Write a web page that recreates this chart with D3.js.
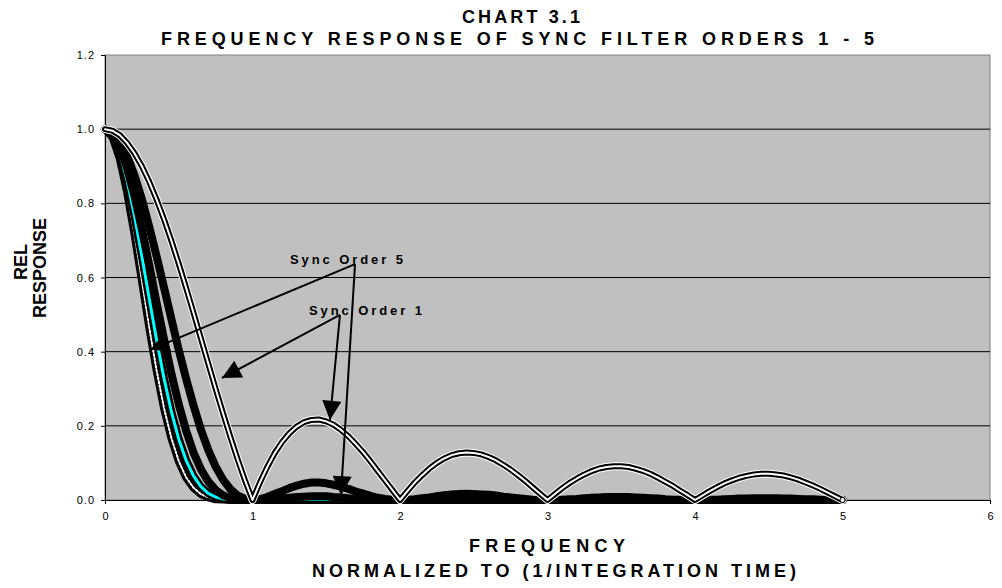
<!DOCTYPE html>
<meta charset="utf-8">
<style>
body { margin: 0; background: #fff; }
text { font-family: "Liberation Sans", Arial, sans-serif; fill: #000; }
.tick text { font-size: 11px; }
.title { font-weight: bold; font-size: 18px; }
.note { font-weight: bold; font-size: 13px; }
</style>
<svg width="1002" height="588"></svg>
<script src="https://d3js.org/d3.v7.min.js"></script>
<script>

// normalized frequency, 0 .. 5 in steps of 0.05
var freq = [0,0.05,0.1,0.15,0.2,0.25,0.3,0.35,0.4,0.45,0.5,0.55,0.6,0.65,0.7,0.75,0.8,0.85,0.9,0.95,
  1,1.05,1.1,1.15,1.2,1.25,1.3,1.35,1.4,1.45,1.5,1.55,1.6,1.65,1.7,1.75,1.8,1.85,1.9,1.95,
  2,2.05,2.1,2.15,2.2,2.25,2.3,2.35,2.4,2.45,2.5,2.55,2.6,2.65,2.7,2.75,2.8,2.85,2.9,2.95,
  3,3.05,3.1,3.15,3.2,3.25,3.3,3.35,3.4,3.45,3.5,3.55,3.6,3.65,3.7,3.75,3.8,3.85,3.9,3.95,
  4,4.05,4.1,4.15,4.2,4.25,4.3,4.35,4.4,4.45,4.5,4.55,4.6,4.65,4.7,4.75,4.8,4.85,4.9,4.95,5];

var order1 = [1,0.996,0.984,0.963,0.935,0.900,0.858,0.810,0.757,0.699,0.637,0.572,0.505,0.436,0.368,0.300,0.234,0.170,0.109,0.052,
  0,0.047,0.089,0.126,0.156,0.180,0.198,0.210,0.216,0.217,0.212,0.203,0.189,0.172,0.151,0.129,0.104,0.078,0.052,0.026,
  0,0.024,0.047,0.067,0.085,0.100,0.112,0.121,0.126,0.128,0.127,0.123,0.116,0.107,0.095,0.082,0.067,0.051,0.034,0.017,
  0,0.016,0.032,0.046,0.058,0.069,0.078,0.085,0.089,0.091,0.091,0.089,0.084,0.078,0.070,0.060,0.049,0.038,0.025,0.013,
  0,0.012,0.024,0.035,0.045,0.053,0.060,0.065,0.069,0.071,0.071,0.069,0.066,0.061,0.055,0.047,0.039,0.030,0.020,0.010,0];

var order2 = [1,0.992,0.968,0.928,0.875,0.811,0.737,0.657,0.573,0.488,0.405,0.327,0.255,0.190,0.135,0.090,0.055,0.029,0.012,0.003,
  0,0.002,0.008,0.016,0.024,0.032,0.039,0.044,0.047,0.047,0.045,0.041,0.036,0.030,0.023,0.017,0.011,0.006,0.003,0.001,
  0,0.001,0.002,0.005,0.007,0.010,0.013,0.015,0.016,0.017,0.016,0.015,0.014,0.012,0.009,0.007,0.005,0.003,0.001,0,
  0,0,0.001,0.002,0.003,0.005,0.006,0.007,0.008,0.008,0.008,0.008,0.007,0.006,0.005,0.004,0.002,0.001,0.001,0,
  0,0,0.001,0.001,0.002,0.003,0.004,0.004,0.005,0.005,0.005,0.005,0.004,0.004,0.003,0.002,0.002,0.001,0,0,0];

var order3 = [1,0.988,0.952,0.894,0.819,0.730,0.633,0.532,0.434,0.341,0.258,0.187,0.128,0.083,0.050,0.027,0.013,0.005,0.001,0,
  0,0,0.001,0.002,0.004,0.006,0.008,0.009,0.010,0.010,0.010,0.008,0.007,0.005,0.004,0.002,0.001,0.001,0,0,
  0,0,0,0,0.001,0.001,0.001,0.002,0.002,0.002,0.002,0.002,0.002,0.001,0.001,0.001,0,0,0,0,
  0,0,0,0,0,0,0,0,0.001,0.001,0.001,0.001,0,0,0,0,0,0,0,0,
  0,0,0,0,0,0,0,0,0,0,0,0,0,0,0,0,0,0,0,0,0];

var order4 = [1,0.984,0.936,0.861,0.766,0.657,0.543,0.431,0.328,0.238,0.164,0.107,0.065,0.036,0.018,0.008,0.003,0.001,0,0,
  0,0,0,0,0.001,0.001,0.002,0.002,0.002,0.002,0.002,0.002,0.001,0.001,0,0,0,0,0,0,
  0,0,0,0,0,0,0,0,0,0,0,0,0,0,0,0,0,0,0,0,
  0,0,0,0,0,0,0,0,0,0,0,0,0,0,0,0,0,0,0,0,
  0,0,0,0,0,0,0,0,0,0,0,0,0,0,0,0,0,0,0,0,0];

var order5 = [1,0.980,0.921,0.830,0.717,0.592,0.466,0.349,0.248,0.167,0.105,0.061,0.033,0.016,0.007,0.002,0.001,0,0,0,
  0,0,0,0,0,0,0,0,0,0,0,0,0,0,0,0,0,0,0,0,
  0,0,0,0,0,0,0,0,0,0,0,0,0,0,0,0,0,0,0,0,
  0,0,0,0,0,0,0,0,0,0,0,0,0,0,0,0,0,0,0,0,
  0,0,0,0,0,0,0,0,0,0,0,0,0,0,0,0,0,0,0,0,0];

var xTicks = [0,1,2,3,4,5,6];
var yTicks = [0,0.2,0.4,0.6,0.8,1.0,1.2];

var svg = d3.select("svg"),
    margin = {top: 55, right: 12, bottom: 88, left: 105},
    width = +svg.attr("width") - margin.left - margin.right,
    height = +svg.attr("height") - margin.top - margin.bottom,
    g = svg.append("g").attr("transform", "translate(" + margin.left + "," + margin.top + ")");

var x = d3.scaleLinear().domain([0, 6]).range([0, width]);
var y = d3.scaleLinear().domain([0, 1.2]).range([height, 0]);

// plot area
g.append("rect")
    .attr("width", width)
    .attr("height", height)
    .attr("fill", "#c0c0c0")
    .attr("stroke", "#808080");

g.selectAll(".grid")
  .data(yTicks.slice(1, 6))
  .enter().append("line")
    .attr("class", "grid")
    .attr("x1", 0)
    .attr("x2", width)
    .attr("y1", function(d) { return y(d); })
    .attr("y2", function(d) { return y(d); })
    .attr("stroke", "#000");

g.append("g")
    .attr("transform", "translate(0," + height + ")")
    .call(d3.axisBottom(x).tickValues(xTicks).tickSize(4).tickPadding(8).tickFormat(d3.format("d")))
    .call(function(a) { a.select(".domain").attr("stroke", "#000"); });

g.append("g")
    .call(d3.axisLeft(y).tickValues(yTicks).tickSize(4).tickPadding(6).tickFormat(d3.format(".1f")))
    .call(function(a) { a.select(".domain").attr("stroke", "#000"); })
    .selectAll(".tick text").attr("letter-spacing", "1px");

// series
function pts(vals) { return freq.map(function(f, i) { return [f, vals[i]]; }); }
var line = d3.line()
    .x(function(d) { return x(d[0]); })
    .y(function(d) { return y(d[1]); });

var curves = g.append("g").attr("fill", "none").attr("stroke-linejoin", "round").attr("stroke-linecap", "round");

function draw(vals, layers) {
  layers.forEach(function(l) {
    curves.append("path")
        .attr("d", line(pts(vals)))
        .attr("stroke", l[0])
        .attr("stroke-width", l[1])
        .attr("stroke-dasharray", l[2] || null);
  });
}

draw(order5, [["#000", 8], ["#fff", 2, "2,2"]]);
draw(order4, [["#000", 8], ["#00ffff", 3]]);
draw(order3, [["#000", 8]]);
draw(order2, [["#000", 8]]);
draw(order1, [["#fff", 8], ["#000", 6], ["#fff", 2]]);

g.append("circle")
    .attr("cx", x(freq[freq.length - 1]))
    .attr("cy", y(order1[order1.length - 1]))
    .attr("r", 2.5)
    .attr("fill", "#fff")
    .attr("stroke", "#000");

// annotations (data coordinates)
svg.append("defs").append("marker")
    .attr("id", "head")
    .attr("viewBox", "0 0 10 10")
    .attr("refX", 10)
    .attr("refY", 5)
    .attr("markerUnits", "userSpaceOnUse")
    .attr("markerWidth", 25)
    .attr("markerHeight", 19)
    .attr("orient", "auto")
  .append("path")
    .attr("d", "M0,0L10,5L0,10Z")
    .attr("fill", "#000");

var arrows = [
  {from: [1.695, 0.636], to: [0.305, 0.405]},
  {from: [1.695, 0.636], to: [1.600, 0.013]},
  {from: [1.593, 0.499], to: [0.793, 0.329]},
  {from: [1.593, 0.499], to: [1.525, 0.216]}
];

g.selectAll(".arrow")
  .data(arrows)
  .enter().append("line")
    .attr("class", "arrow")
    .attr("x1", function(d) { return x(d.from[0]); })
    .attr("y1", function(d) { return y(d.from[1]); })
    .attr("x2", function(d) { return x(d.to[0]); })
    .attr("y2", function(d) { return y(d.to[1]); })
    .attr("stroke", "#000")
    .attr("stroke-width", 2)
    .attr("marker-end", "url(#head)");

var notes = [
  {text: "Sync Order 5", at: [1.254, 0.636]},
  {text: "Sync Order 1", at: [1.383, 0.499]}
];

g.selectAll(".note")
  .data(notes)
  .enter().append("text")
    .attr("class", "note")
    .attr("x", function(d) { return x(d.at[0]); })
    .attr("y", function(d) { return y(d.at[1]); })
    .attr("textLength", 113)
    .attr("lengthAdjust", "spacing")
    .text(function(d) { return d.text; });

// titles
svg.append("text").attr("class", "title")
    .attr("x", 462).attr("y", 23)
    .attr("textLength", 118).attr("lengthAdjust", "spacing")
    .text("CHART 3.1");
svg.append("text").attr("class", "title")
    .attr("x", 161).attr("y", 45)
    .attr("textLength", 713).attr("lengthAdjust", "spacing")
    .text("FREQUENCY RESPONSE OF SYNC FILTER ORDERS 1 -  5");

svg.append("text").attr("class", "title")
    .attr("x", 469).attr("y", 552)
    .attr("textLength", 156).attr("lengthAdjust", "spacing")
    .text("FREQUENCY");
svg.append("text").attr("class", "title")
    .attr("x", 312).attr("y", 577)
    .attr("textLength", 484).attr("lengthAdjust", "spacing")
    .text("NORMALIZED TO (1/INTEGRATION TIME)");

svg.append("text").attr("class", "title")
    .attr("transform", "translate(27,262) rotate(-90)")
    .attr("text-anchor", "middle")
    .text("REL");
svg.append("text").attr("class", "title")
    .attr("transform", "translate(46,268) rotate(-90)")
    .attr("text-anchor", "middle")
    .text("RESPONSE");

</script>
